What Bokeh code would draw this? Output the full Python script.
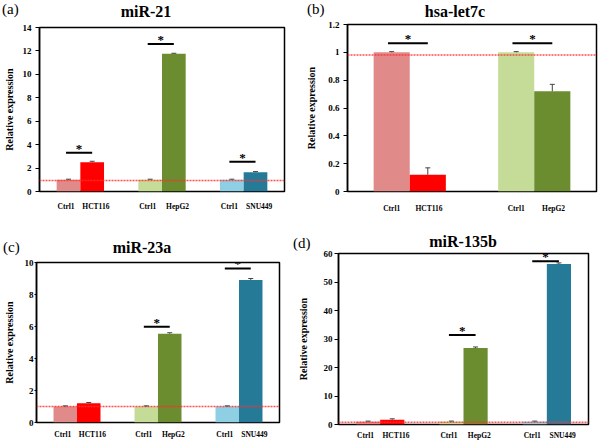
from bokeh.plotting import figure
from bokeh.models import (Range1d, FixedTicker, CustomJSTickFormatter, NumeralTickFormatter,
                          Span, Whisker, ColumnDataSource, TeeHead, Div)
from bokeh.layouts import column, row
from bokeh.embed import file_html
from bokeh.resources import INLINE
from bokeh.core.properties import value

# ---------------- data ----------------
ctrl_label = "Ctrl1"

a_title = "miR-21"
a_groups = ["HCT116", "HepG2", "SNU449"]
a_ctrl = [1.0, 1.0, 1.0]
a_ctrl_err = [0.05, 0.05, 0.05]
a_case = [2.5, 11.75, 1.65]
a_case_err = [0.08, 0.05, 0.05]
a_sig = [3.3, 12.6, 2.55]
a_ref = 0.93
a_yticks = [0, 2, 4, 6, 8, 10, 12, 14]

b_title = "hsa-let7c"
b_groups = ["HCT116", "HepG2"]
b_ctrl = [1.0, 1.0]
b_ctrl_err = [0.005, 0.005]
b_case = [0.12, 0.72]
b_case_err = [0.05, 0.05]
b_sig = [1.066, 1.066]
b_ref = 0.98
b_yticks = [0, 0.2, 0.4, 0.6, 0.8, 1.0, 1.2]

c_title = "miR-23a"
c_groups = ["HCT116", "HepG2", "SNU449"]
c_ctrl = [1.0, 1.0, 1.0]
c_ctrl_err = [0.04, 0.04, 0.04]
c_case = [1.2, 5.55, 8.9]
c_case_err = [0.05, 0.06, 0.1]
c_sig = [None, 5.98, 9.63]
c_ref = 1.0
c_yticks = [0, 2, 4, 6, 8, 10]

d_title = "miR-135b"
d_groups = ["HCT116", "HepG2", "SNU449"]
d_ctrl = [1.0, 1.0, 1.0]
d_ctrl_err = [0.2, 0.2, 0.2]
d_case = [1.7, 26.8, 56.3]
d_case_err = [0.3, 0.4, 0.4]
d_sig = [None, 31.4, 57.3]
d_ref = 0.8
d_yticks = [0, 10, 20, 30, 40, 50, 60]

# ---------------- style ----------------
COLORS = {
    "HCT116": ("#E08A8A", "#FF0000"),
    "HepG2": ("#C5DC98", "#6B8C2F"),
    "SNU449": ("#8ECFE3", "#257A98"),
}
FONT = "Liberation Serif"
BAR_W = 0.29


def header(W, h, letter, lx, ly, title, tx, ty):
    html = (
        f'<div style="position:relative;width:{W}px;height:{h}px;margin:0;padding:0;overflow:visible;">'
        f'<span style="position:absolute;left:{lx}px;top:{ly}px;font-family:\'Liberation Serif\',serif;'
        f'font-size:15px;line-height:14px;white-space:nowrap;color:#000;">{letter}</span>'
        f'<span style="position:absolute;left:{tx}px;top:{ty}px;transform:translateX(-50%);'
        f'font-family:\'Liberation Serif\',serif;font-size:16px;font-weight:bold;line-height:16px;'
        f'white-space:nowrap;color:#000;">{title}</span></div>'
    )
    return Div(text=html, width=W, height=h, margin=0)


def panel(groups, ctrl, ctrl_err, case, case_err, sig, ref, yticks,
          W, H, L, R, T, B, tick_out, lab_standoff, ylab_standoff, xlab_standoff, lab_shift):
    n = len(groups)
    ymax = yticks[-1]
    p = figure(width=W, height=H, x_range=Range1d(0, n), y_range=Range1d(0, ymax),
               output_backend="svg", toolbar_location=None, title=None,
               min_border_left=L, min_border_right=R, min_border_top=T, min_border_bottom=B)
    p.grid.visible = False
    p.outline_line_color = "black"
    p.outline_line_width = 1.5
    p.background_fill_color = "white"
    p.border_fill_color = "white"

    ctrl_x = [i + 0.5 - BAR_W / 2 for i in range(n)]
    case_x = [i + 0.5 + BAR_W / 2 for i in range(n)]

    src_ctrl = ColumnDataSource(dict(x=ctrl_x, top=ctrl, color=[COLORS[g][0] for g in groups]))
    src_case = ColumnDataSource(dict(x=case_x, top=case, color=[COLORS[g][1] for g in groups]))
    p.vbar(x="x", top="top", bottom=0, width=BAR_W, fill_color="color", line_color=None, source=src_ctrl)
    p.vbar(x="x", top="top", bottom=0, width=BAR_W, fill_color="color", line_color=None, source=src_case)

    err_src = ColumnDataSource(dict(
        x=ctrl_x + case_x,
        upper=[v + e for v, e in zip(ctrl, ctrl_err)] + [v + e for v, e in zip(case, case_err)],
        lower=list(ctrl) + list(case)))
    w = Whisker(base="x", upper="upper", lower="lower", source=err_src,
                upper_head=TeeHead(size=5, line_color="#444444", line_width=1),
                lower_head=None, line_color="#444444", line_width=1, level="overlay")
    p.add_layout(w)

    p.add_layout(Span(location=ref, dimension="width", line_color="#FF3030",
                      line_dash="2 1", line_width=1.5, line_alpha=0.85))

    sx0, sx1, sy = [], [], []
    for i, s in enumerate(sig):
        if s is None:
            continue
        sx0.append(ctrl_x[i] - 0.03)
        sx1.append(case_x[i])
        sy.append(s)
    if sy:
        p.segment(x0=sx0, x1=sx1, y0=sy, y1=sy, line_color="black", line_width=2)
        p.text(x=[(a + b) / 2 for a, b in zip(sx0, sx1)], y=sy, text=["*"] * len(sy),
               text_font=value(FONT), text_font_size="13px", text_font_style="bold",
               text_align="center", text_baseline="bottom", y_offset=3, text_color="black")

    # axes
    ticks = [x - lab_shift[0] for x in ctrl_x] + [x + lab_shift[1] for x in case_x]
    labs = [ctrl_label] * n + list(groups)
    p.xaxis.ticker = FixedTicker(ticks=ticks)
    p.xaxis.formatter = CustomJSTickFormatter(args=dict(pos=ticks, labs=labs), code="""
        let idx = 0, best = 1e9;
        for (let k = 0; k < pos.length; k++) {
            const d = Math.abs(pos[k] - tick);
            if (d < best) { best = d; idx = k; }
        }
        return labs[idx];
    """)
    p.xaxis.axis_line_color = None
    p.xaxis.major_tick_line_color = None
    p.xaxis.minor_tick_line_color = None
    p.xaxis.major_tick_out = 0
    p.xaxis.major_tick_in = 0
    p.xaxis.major_label_standoff = xlab_standoff
    p.xaxis.major_label_text_font = FONT
    p.xaxis.major_label_text_font_size = "7.5px"
    p.xaxis.major_label_text_font_style = "bold"
    p.xaxis.major_label_text_color = "black"

    p.yaxis.ticker = FixedTicker(ticks=yticks)
    p.yaxis.formatter = NumeralTickFormatter(format="0.[0]")
    p.yaxis.axis_line_color = "black"
    p.yaxis.axis_line_width = 1.5
    p.yaxis.major_tick_line_color = "black"
    p.yaxis.major_tick_out = tick_out
    p.yaxis.major_tick_in = 0
    p.yaxis.minor_tick_line_color = None
    p.yaxis.major_label_standoff = lab_standoff
    p.yaxis.major_label_text_font = FONT
    p.yaxis.major_label_text_font_size = "9px"
    p.yaxis.major_label_text_font_style = "bold"
    p.yaxis.major_label_text_color = "black"
    p.yaxis.axis_label = "Relative expression"
    p.yaxis.axis_label_standoff = ylab_standoff
    p.yaxis.axis_label_text_font = FONT
    p.yaxis.axis_label_text_font_size = "10px"
    p.yaxis.axis_label_text_font_style = "bold"
    p.yaxis.axis_label_text_color = "black"
    return p


LW, RW = 292, 310

ha = header(LW, 20, "(a)", 2, 2, a_title, 146, 4)
pa = panel(a_groups, a_ctrl, a_ctrl_err, a_case, a_case_err, a_sig, a_ref, a_yticks,
           LW, 206, 36, 8, 7, 35, 4, 4, 5, 10, (0.03, 0.045))
hb = header(RW, 20, "(b)", 15, 2, b_title, 163, 4)
pb = panel(b_groups, b_ctrl, b_ctrl_err, b_case, b_case_err, b_sig, b_ref, b_yticks,
           RW, 206, 55, 6, 4, 35, 4, 4, 8, 12, (0.0, 0.01))
hc = header(LW, 30, "(c)", 3, 14, c_title, 142, 14)
pc = panel(c_groups, c_ctrl, c_ctrl_err, c_case, c_case_err, c_sig, c_ref, c_yticks,
           LW, 188, 32, 13, 6, 22, 2, 1, 7, 7, (0.03, 0.045))
hd = header(RW, 24, "(d)", 1, 10, d_title, 171, 8)
pd = panel(d_groups, d_ctrl, d_ctrl_err, d_case, d_case_err, d_sig, d_ref, d_yticks,
           RW, 194, 46, 14, 3, 20, 4, 2, 12, 6, (0.03, 0.045))

layout = column(row(column(ha, pa), column(hb, pb)), row(column(hc, pc), column(hd, pd)))
open("out.html", "w").write(file_html(layout, INLINE))
